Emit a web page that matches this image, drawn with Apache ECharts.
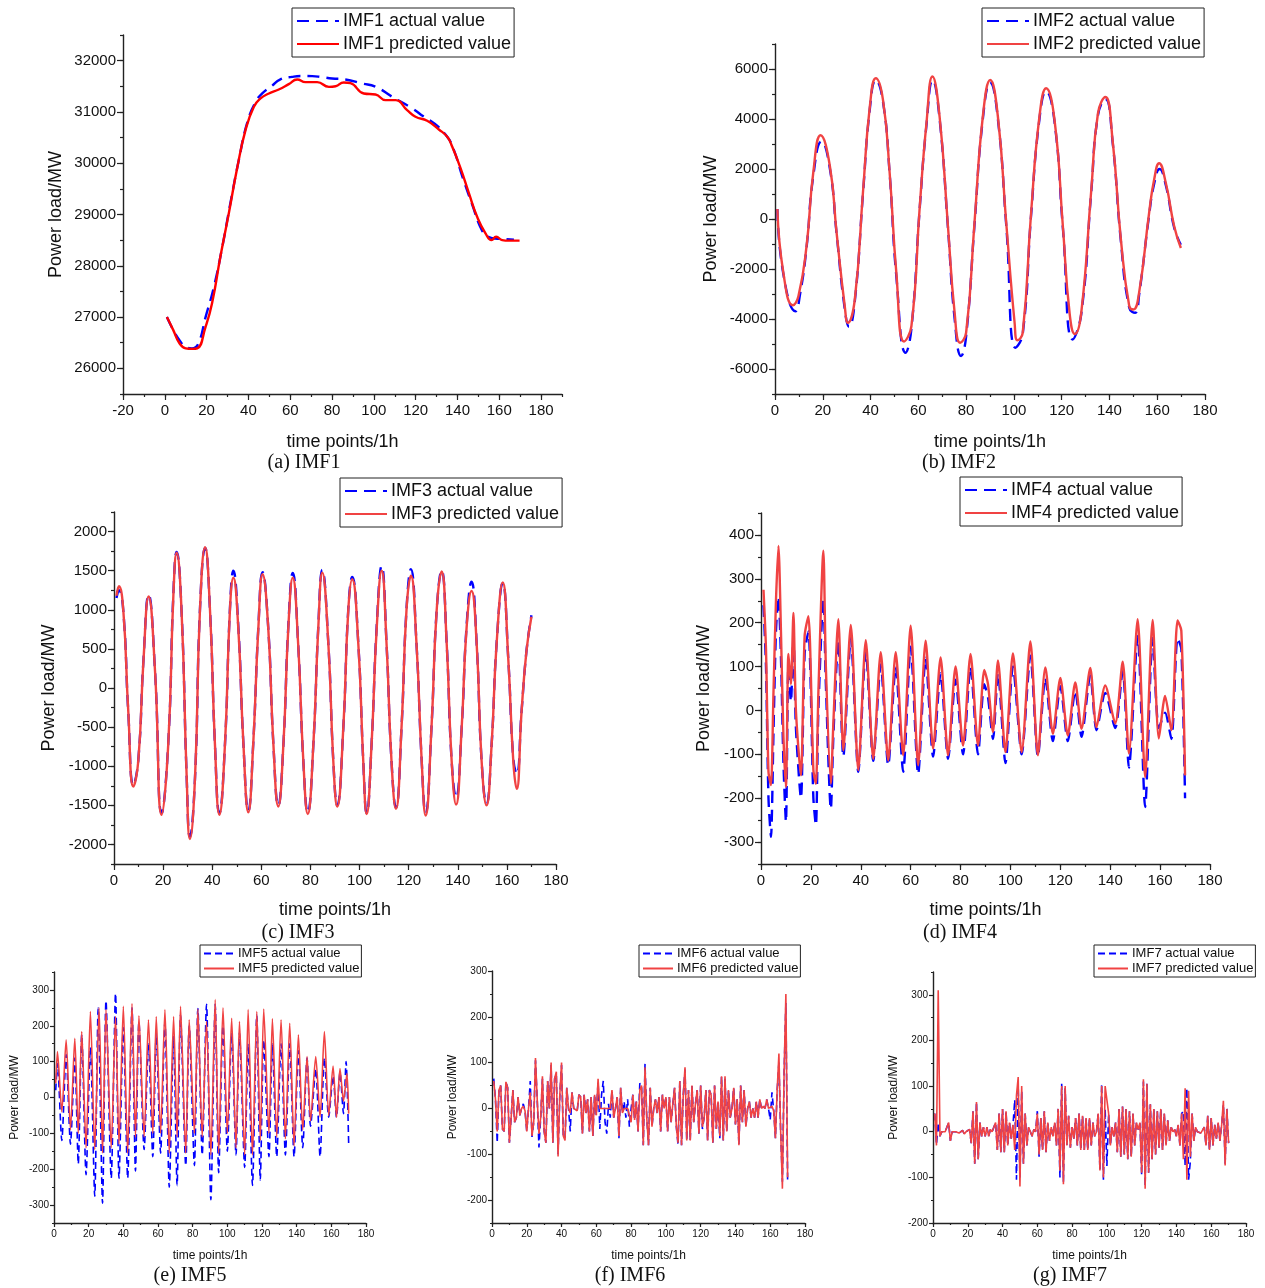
<!DOCTYPE html>
<html lang="en">
<head>
  <meta charset="UTF-8">
  <title>IMF actual vs predicted</title>
  <style>
    * { margin: 0; padding: 0; }
    body { background: #fff; }
    #main { width: 1265px; height: 1288px; }
  </style>
</head>
<body>
  <div id="main"></div>
  <script src="https://cdn.jsdelivr.net/npm/echarts@6.0.0/dist/echarts.min.js"></script>
  <script>
    // ---- data: [time point, MW] ----
    const imf1Act = [[1,27000],[4,26750],[7,26550],[10,26420],[13,26390],[16,26480],[19.5,27000],[23.5,27590],[27.5,28370],[31.5,29250],[35.5,30080],[39.5,30800],[43.5,31200],[46.6,31360],[51,31500],[55.3,31636],[60.9,31684],[65,31700],[70.5,31698],[75,31680],[80,31653],[86.4,31633],[94.3,31555],[100.8,31490],[108.8,31295],[118.4,31068],[124,30905],[128.9,30775],[134.5,30548],[137.5,30340],[143,29660],[147,29200],[151.8,28683],[155,28560],[158,28530],[163,28520],[167,28510]]
    const imf1Pred = [[1,27000],[4,26750],[7,26490],[10,26390],[13,26380],[15.5,26390],[19.5,26810],[22.6,27270],[26.6,28180],[30.6,29020],[34.6,29900],[38.6,30645],[42.6,31100],[45.8,31263],[49.8,31360],[54.5,31438],[59.3,31542],[63.3,31633],[67.3,31581],[72.9,31581],[78.5,31489],[81.7,31500],[85.6,31575],[88.8,31560],[95.2,31360],[100.8,31340],[105.6,31230],[110.4,31230],[115.9,31035],[119.9,30905],[125.5,30827],[131.1,30658],[135.1,30515],[137.5,30320],[141.5,29899],[145.5,29411],[149.4,28955],[153.4,28632],[156.3,28501],[158.5,28566],[161.4,28501],[164.6,28490],[169.7,28490]]

    const imf2Act = [[1,400],[3.5,-2200],[8.6,-3690],[10.5,-3000],[13.2,-1150],[16,1700],[19.5,3100],[23,2000],[25.8,-600],[29.2,-3600],[31,-4310],[33.4,-3300],[36.9,1100],[39.7,4400],[42.2,5550],[45.2,4700],[48,1800],[50.8,-2300],[54.7,-5350],[57.1,-4400],[60.6,450],[63.4,3750],[66,5550],[68.9,4000],[72.4,-350],[75.2,-4000],[77.9,-5480],[80,-4700],[83.5,-250],[87,4000],[90.1,5450],[93.3,4000],[96.8,-250],[100.7,-5150],[103.7,-4600],[107.2,150],[110.7,4000],[113.5,5100],[117,3900],[120.5,-350],[124.6,-4820],[128.2,-3800],[132.4,1100],[135.2,4150],[138.3,4800],[141.3,3100],[144.8,-900],[148.3,-3550],[150.8,-3750],[152.4,-3050],[156.6,150],[158.7,1400],[161,2000],[163.6,1350],[167.1,-350],[169.9,-1030]]
    const imf2Pred = [[1,400],[3.5,-2150],[7.5,-3450],[9.8,-3090],[13.2,-1090],[16,1840],[19.1,3350],[23,2100],[25.8,-560],[29.2,-3490],[30.5,-4150],[33.4,-3220],[36.9,1170],[39.7,4500],[42.2,5630],[45.2,4765],[48,1840],[50.8,-2160],[54,-4900],[57.1,-4290],[60.6,510],[63.4,3830],[65.9,5700],[68.9,4100],[72.4,-290],[75.2,-3750],[77.5,-4950],[80,-4550],[83.5,-160],[87,4100],[90.1,5560],[93.3,4100],[96.8,-160],[100.3,-4150],[101.5,-4850],[103.7,-4550],[107.2,240],[110.7,4100],[113.5,5230],[117,3970],[120.5,-290],[123.3,-3750],[125.5,-4600],[128.2,-3750],[132.4,1170],[135.2,4230],[138.3,4880],[141.3,3170],[144.8,-825],[148.3,-3490],[150,-3620],[152.4,-2955],[156.6,240],[158.7,1570],[160.8,2230],[163.6,1440],[167.1,-290],[169.9,-1160]]

    const imf3Act = [[1,1150],[2,1250],[3.8,980],[5.8,-300],[7.9,-1240],[9.9,-920],[12,360],[14.1,1190],[16.7,220],[19.4,-1600],[22.1,-700],[24.2,1220],[25.5,1740],[27.5,990],[29.6,-1140],[30.9,-1900],[33,-1140],[35,1000],[37.1,1790],[39.1,990],[41.1,-715],[42.9,-1600],[45.2,-715],[47.2,1000],[48.6,1500],[50.6,800],[52.7,-715],[54.7,-1570],[56.7,-715],[58.8,790],[60.5,1480],[62.8,775],[64.9,-715],[66.9,-1500],[69,-715],[71,800],[72.8,1470],[75,560],[77.1,-930],[78.9,-1590],[81.2,-715],[83.2,790],[84.8,1510],[87.3,560],[89.3,-930],[90.9,-1500],[93.4,-500],[95.4,1000],[97,1420],[99.5,560],[101.5,-930],[102.9,-1600],[104.9,-715],[107,800],[109,1560],[111,560],[113,-930],[114.8,-1530],[117.1,-500],[119.1,1000],[120.9,1520],[123.2,560],[125.3,-930],[126.9,-1600],[129.3,-500],[131.4,990],[133.4,1500],[135.5,560],[137.5,-930],[139.3,-1400],[141.6,-500],[143.6,800],[145.6,1360],[147.7,560],[149.7,-930],[151.7,-1480],[153.8,-715],[155.8,560],[158.3,1340],[160.6,350],[162.6,-900],[164,-1100],[166,-290],[168,480],[170,930]]
    const imf3Pred = [[1,1180],[2,1300],[3.8,990],[5.8,-290],[7.9,-1260],[9.9,-930],[12,350],[14.1,1170],[16.7,220],[19.4,-1620],[22.1,-715],[24.2,1200],[25.5,1730],[27.5,990],[29.6,-1140],[30.9,-1930],[33,-1140],[35,990],[37.1,1800],[39.1,990],[41.1,-715],[42.9,-1620],[45.2,-715],[47.2,990],[48.6,1410],[50.6,775],[52.7,-715],[54.7,-1590],[56.7,-715],[58.8,775],[60.5,1455],[62.8,775],[64.9,-715],[66.9,-1515],[69,-715],[71,775],[72.8,1410],[75,560],[77.1,-930],[78.9,-1610],[81.2,-715],[83.2,775],[84.8,1475],[87.3,560],[89.3,-930],[90.9,-1515],[93.4,-500],[95.4,990],[97,1390],[99.5,560],[101.5,-930],[102.9,-1610],[104.9,-715],[107,775],[109,1500],[111,560],[113,-930],[114.8,-1545],[117.1,-500],[119.1,990],[120.9,1435],[123.2,560],[125.3,-930],[126.9,-1630],[129.3,-500],[131.4,990],[133.4,1490],[135.5,560],[137.5,-930],[139.3,-1490],[141.6,-500],[143.6,775],[145.6,1240],[147.7,560],[149.7,-930],[151.7,-1500],[153.8,-715],[155.8,560],[158.3,1350],[160.6,350],[162.6,-930],[164,-1290],[166,-290],[168,480],[170,910]]

    const imf4Act = [[1,240],[2,100],[3,-200],[4,-288],[5,-50],[6,180],[7,260],[8,120],[9,-120],[10,-254],[11,100],[12,20],[13,170],[14,-40],[16,-200],[17.5,130],[19,180],[21,-200],[22,-262],[23,0],[25,255],[26,60],[28,-225],[29,-60],[31,160],[33,-105],[36,165],[39,-140],[42,135],[45,-115],[48,105],[51,-125],[54,100],[57,-140],[60,145],[63,-145],[66,120],[69,-105],[72,85],[75,-110],[78,70],[81,-100],[84,100],[87,-100],[89.5,60],[91,30],[93,-65],[95,85],[98,-120],[101,100],[104.5,-100],[108,125],[111,-105],[114,75],[117,-70],[120,55],[123,-70],[126,45],[128.5,-60],[132,80],[134.5,-45],[138,40],[142,-40],[145,90],[147.5,-130],[151,170],[154,-220],[157,165],[159.5,-40],[162,-5],[164.5,-65],[167,165],[168.5,140],[170,-200]]
    const imf4Pred = [[1,275],[2,140],[3,-140],[4,-170],[5,40],[6,250],[7,375],[8,180],[9,-60],[10,-174],[11,129],[12,60],[13,222],[14,0],[16,-148],[17.5,170],[19,215],[21,-136],[22,-167],[23,40],[25,364],[26,100],[28,-167],[29,-30],[31,208],[33,-91],[36,195],[39,-136],[42,160],[45,-110],[48,133],[51,-114],[54,133],[57,-102],[60,193],[63,-125],[66,159],[69,-87],[72,121],[75,-102],[78,100],[81,-80],[84,129],[87,-80],[89.5,92],[91,60],[93,-49],[95,114],[98,-95],[101,130],[104.5,-95],[108,157],[111,-102],[114,98],[117,-53],[120,74],[123,-57],[126,64],[128.5,-42],[132,97],[134.5,-38],[138,57],[142,-30],[145,111],[147.5,-98],[151,208],[154,-152],[157,206],[159.5,-64],[162,33],[164.5,-45],[167,205],[168.5,182],[170,-148]]

    const imf5Act = [[1,20],[2,95],[4.5,-120],[7,120],[9.5,-130],[12,110],[14,-185],[16,175],[18.5,-215],[21,140],[23.5,-275],[25.5,250],[28,-295],[30,270],[33,-225],[35.5,290],[37.5,-225],[40,195],[42.5,-225],[45,250],[47,-205],[49,210],[52,-145],[54.5,150],[57,-165],[59,180],[61.5,-155],[64,210],[66.5,-250],[69,170],[71,-245],[73,230],[76,-190],[78,200],[81,-190],[83,248],[85.5,-160],[88,260],[90.5,-285],[93,260],[95,-210],[97.5,200],[100,-150],[102.5,180],[105,-160],[107,180],[110,-195],[112,150],[114.5,-245],[117,230],[119,-230],[121,160],[124,-165],[126,150],[128.5,-165],[131,150],[133.5,-160],[136,150],[138.5,-165],[141,130],[143.5,-140],[146,110],[148,-80],[151,80],[153.5,-165],[156,110],[158.5,-55],[161,60],[163,-55],[165,70],[167,-45],[168.5,100],[170,-130]]
    const imf5Pred = [[1,40],[2,128],[4.5,-40],[7,161],[9.5,-90],[12,165],[14,-100],[16,184],[18.5,-140],[21,240],[23.5,-145],[26,250],[28,-155],[30,245],[33,-140],[35.5,226],[37.5,-130],[40,254],[42.5,-155],[45,262],[47,-110],[49,228],[52,-110],[54.5,217],[57,-100],[59,226],[61.5,-100],[64,245],[66.5,-155],[69,226],[71,-110],[73,254],[76,-155],[78,217],[81,-100],[83,247],[85.5,-110],[88,212],[90.5,-160],[93,273],[95,-155],[97.5,250],[100,-100],[102.5,221],[105,-140],[107,212],[110,-160],[112,245],[114.5,-160],[117,240],[119,-120],[121,247],[124,-100],[126,220],[128.5,-110],[131,217],[133.5,-115],[136,207],[138.5,-135],[141,175],[143.5,-90],[146,114],[148,-65],[151,114],[153.5,-55],[156,184],[158.5,-50],[161,88],[163,-55],[165,81],[167,-10],[169,67],[170,-45]]

    // hourly values, time points 1..170
    const imf6Act = [65,20,-75,40,50,-45,-50,58,45,-75, -20,40,-30,-20,25,-15,0,10,-5,-50, 0,60,-62,-30,105,20,-85,-20,65,-50, -75,60,0,95,-75,65,75,-100,30,95, -60,-65,45,0,-50,35,0,0,-5,30, 25,-55,30,-10,20,-50,25,-60,30,-15, 60,-45,30,60,-30,-55,10,-20,40,-20, 0,25,-65,45,-10,15,-20,20,-40,0, 30,-25,15,-50,55,50,-80,98,-20,-80, 45,-40,0,20,-10,25,-50,30,0,25, -50,25,-30,10,45,-40,-80,60,-80,30, 85,-70,40,-70,50,-30,10,40,-55,50, -45,-20,40,-70,40,30,-75,50,-45,15, -65,70,-70,65,-50,40,-20,0,45,-35, 20,-80,50,-30,40,-40,0,15,-20,0, -20,15,-20,20,0,5,0,20,0,-25, 35,-5,-65,40,100,-50,-160,80,230,-160]
    const imf6Pred = [60,20,-50,40,50,-45,-50,58,45,-75, -20,40,-30,-20,25,-15,0,5,-5,-50, 0,35,-60,-30,110,20,-55,-20,70,-50, -75,60,0,100,-75,65,80,-105,30,100, -60,-70,45,0,-10,35,0,0,-5,30, 25,-55,30,-10,20,-50,25,-60,30,-15, 65,0,0,0,0,0,0,0,40,-20, 0,25,-60,45,-10,0,0,0,0,-30, 30,-25,15,-50,40,50,-80,90,-20,-80, 45,-40,0,20,-10,25,-50,30,0,25, -50,25,-30,10,45,-40,-75,60,-80,30, 90,-70,40,-70,50,-30,10,40,-55,50, -40,-20,40,-70,40,30,-75,50,-45,15, -60,70,-70,70,-50,40,-20,0,45,-35, 20,-80,50,-30,40,-40,0,15,-20,0, -20,15,-20,20,0,5,0,20,0,0, 5,-5,-65,40,120,-50,-175,80,250,-150]

    const imf7Act = [40,-28,20,-10,0,0,0,0,20,-20, 0,0,0,0,-3,0,3,-5,0,0, 5,-25,45,-70,65,-60,20,-10,10,-10, 10,-10,5,0,0,20,-40,40,-45,50, -45,45,-30,20,-15,15,70,-105,100,-100, 90,-70,40,-30,10,0,-10,5,0,45, -55,30,-40,45,-45,20,-20,10,-10,20, -30,50,-100,105,-110,95,-30,35,-35,10, -15,30,-30,40,-40,35,-40,30,-40,30, -30,20,-10,0,40,-85,105,-105,50,-75, 40,-30,10,-10,20,-45,50,-55,55,-50, 50,-60,45,-55,40,-30,20,5,20,-95, 110,-120,105,-90,60,-60,50,-50,45,-35, 50,-40,40,-30,25,-20,10,0,5,-10, 15,-30,40,45,-75,95,-105,-65,40,-20, 10,0,0,-3,-5,10,-30,35,-40,30, -30,15,-15,20,-20,15,60,-70,50,-25]
    const imf7Pred = [40,-30,310,-10,0,0,0,0,20,-20, 0,0,0,0,-3,0,3,-5,0,0, 5,-25,45,-70,65,-60,20,-10,10,-10, 10,-10,5,0,0,20,-40,40,-45,50, -45,45,-30,20,-15,15,-40,80,120,-120, 100,-70,40,-30,10,0,-10,5,0,40, -50,30,-40,45,-45,20,-20,10,-10,20, -30,50,-85,100,-115,100,-30,35,-35,10, -15,30,-30,40,-40,35,-40,30,-40,30, -30,20,-10,0,40,-85,100,-100,100,70, 40,-30,10,-10,20,-45,50,-55,55,-50, 50,-60,45,-55,40,-30,20,5,20,-90, 115,-125,105,-90,60,-60,50,-50,45,-35, 50,-40,40,-30,25,-20,10,0,5,-10, 15,-30,40,-60,95,-105,90,-55,40,-20, 10,0,0,-3,-5,10,-30,35,-40,30, -30,15,-15,20,-20,15,68,-74,50,-25]

    const hourly = arr => arr.map((v, i) => [i + 1, v])

    // ---- panel layout (pixel boxes of the seven plots) ----
    const panels = [
      { key: 'IMF1', cap: '(a) IMF1', grid: { left: 123, top: 35, width: 439, height: 359 }, x: [-20, 190, 10, 20], y: [25500, 32500, 500, 1000], big: true, legend: [292, 8], capPos: [304, 463], yGap: 58, xGap: 39, red: '#ff0000', act: imf1Act, pred: imf1Pred, smooth: true },
      { key: 'IMF2', cap: '(b) IMF2', grid: { left: 775, top: 44, width: 430, height: 350 }, x: [0, 180, 10, 20], y: [-7000, 7000, 1000, 2000], big: true, legend: [982, 8], capPos: [959, 463], yGap: 55, xGap: 39, red: '#f04343', act: imf2Act, pred: imf2Pred, smooth: true },
      { key: 'IMF3', cap: '(c) IMF3', grid: { left: 114, top: 512, width: 442, height: 352 }, x: [0, 180, 10, 20], y: [-2250, 2250, 250, 500], big: true, legend: [340, 478], capPos: [298, 933], yGap: 56, xGap: 37, red: '#f04343', act: imf3Act, pred: imf3Pred, smooth: true },
      { key: 'IMF4', cap: '(d) IMF4', grid: { left: 761, top: 513, width: 449, height: 351 }, x: [0, 180, 10, 20], y: [-350, 450, 50, 100], big: true, legend: [960, 477], capPos: [960, 933], yGap: 48, xGap: 37, red: '#f04343', act: imf4Act, pred: imf4Pred, smooth: 0.25 },
      { key: 'IMF5', cap: '(e) IMF5', grid: { left: 54, top: 972, width: 312, height: 251 }, x: [0, 180, 10, 20], y: [-350, 350, 50, 100], big: false, legend: [200, 945], capPos: [190, 1276], yGap: 33, xGap: 27, red: '#f04343', act: imf5Act, pred: imf5Pred, smooth: 0.25 },
      { key: 'IMF6', cap: '(f) IMF6', grid: { left: 492, top: 971, width: 313, height: 252 }, x: [0, 180, 10, 20], y: [-250, 300, 50, 100], big: false, legend: [639, 945], capPos: [630, 1276], yGap: 33, xGap: 27, red: '#f04343', act: hourly(imf6Act), pred: hourly(imf6Pred), smooth: false },
      { key: 'IMF7', cap: '(g) IMF7', grid: { left: 933, top: 972, width: 313, height: 251 }, x: [0, 180, 10, 20], y: [-200, 350, 50, 100], big: false, legend: [1094, 945], capPos: [1070, 1276], yGap: 33, xGap: 27, red: '#f04343', act: hourly(imf7Act), pred: hourly(imf7Pred), smooth: false }
    ]

    const FONT = 'Liberation Sans'
    const AXIS_COLOR = '#222'

    // main axis carries line, minor ticks and labels; second axis only draws the longer major ticks
    function makeAxes(dim, gi, range, big, name, gap) {
      const [min, max, minor, major] = range
      const majors = []
      for (let v = Math.ceil(min / major) * major; v <= max + 1e-9; v += major) majors.push(v)
      const isMajor = v => Math.abs(v / major - Math.round(v / major)) < 1e-6
      const pos = dim === 'x' ? 'bottom' : 'left'
      const main = {
        type: 'value', gridIndex: gi, min, max, interval: minor, position: pos,
        splitLine: { show: false },
        axisLine: { show: true, onZero: false, lineStyle: { color: AXIS_COLOR, width: 1.4 } },
        axisTick: { show: true, length: big ? 3 : 2, lineStyle: { color: AXIS_COLOR, width: 1.2 } },
        axisLabel: {
          fontFamily: FONT, fontSize: big ? 15 : 10, color: '#111',
          margin: dim === 'x' ? (big ? 9 : 6) : (big ? 7 : 5),
          formatter: v => (isMajor(v) ? String(v) : '')
        },
        name, nameLocation: 'middle', nameGap: gap,
        nameTextStyle: { fontFamily: FONT, fontSize: big ? 18 : 12, color: '#111' }
      }
      const ticks = {
        type: 'value', gridIndex: gi, min, max, position: pos,
        splitLine: { show: false },
        axisLine: { show: false, onZero: false },
        axisLabel: { show: false },
        axisTick: { show: true, length: big ? 6 : 4, customValues: majors, lineStyle: { color: AXIS_COLOR, width: 1.2 } }
      }
      return [main, ticks]
    }

    const grids = [], xAxes = [], yAxes = [], series = [], legends = [], graphics = []
    panels.forEach((p, gi) => {
      grids.push(Object.assign({ containLabel: false }, p.grid))
      xAxes.push(...makeAxes('x', gi, p.x, p.big, 'time points/1h', p.xGap))
      yAxes.push(...makeAxes('y', gi, p.y, p.big, 'Power load/MW', p.yGap))
      const actName = p.key + ' actual value'
      const predName = p.key + ' predicted value'
      const lw = p.big ? 2.4 : 1.6
      series.push({
        name: actName, type: 'line', xAxisIndex: gi * 2, yAxisIndex: gi * 2,
        data: p.act, showSymbol: false, symbol: 'none', smooth: p.smooth, animation: false,
        lineStyle: { color: '#0000ff', width: lw, type: p.big ? [12, 7] : [7, 4] },
        itemStyle: { color: '#0000ff' }, z: 2
      })
      series.push({
        name: predName, type: 'line', xAxisIndex: gi * 2, yAxisIndex: gi * 2,
        data: p.pred, showSymbol: false, symbol: 'none', smooth: p.smooth, animation: false,
        lineStyle: { color: p.red, width: lw },
        itemStyle: { color: p.red }, z: 3
      })
      legends.push({
        left: p.legend[0], top: p.legend[1], orient: 'vertical',
        data: [actName, predName],
        borderColor: '#222', borderWidth: 1, borderRadius: 0,
        padding: p.big ? [4, 3, 4, 4] : [2, 2, 2, 3],
        itemGap: p.big ? 5 : 2,
        itemWidth: p.big ? 42 : 30, itemHeight: p.big ? 18 : 13,
        itemStyle: { opacity: 0 },
        textStyle: { fontFamily: FONT, fontSize: p.big ? 18 : 13, color: '#111', padding: [0, 0, 0, -1] },
        selectedMode: false
      })
      graphics.push({
        type: 'text', x: p.capPos[0], y: p.capPos[1],
        style: { text: p.cap, font: '20px "Liberation Serif"', fill: '#111', align: 'center', verticalAlign: 'middle' }
      })
    })

    const chart = echarts.init(document.getElementById('main'), null, { renderer: 'canvas' })
    chart.setOption({
      backgroundColor: '#fff',
      animation: false,
      grid: grids,
      xAxis: xAxes,
      yAxis: yAxes,
      legend: legends,
      series,
      graphic: graphics
    })
  </script>
</body>
</html>
